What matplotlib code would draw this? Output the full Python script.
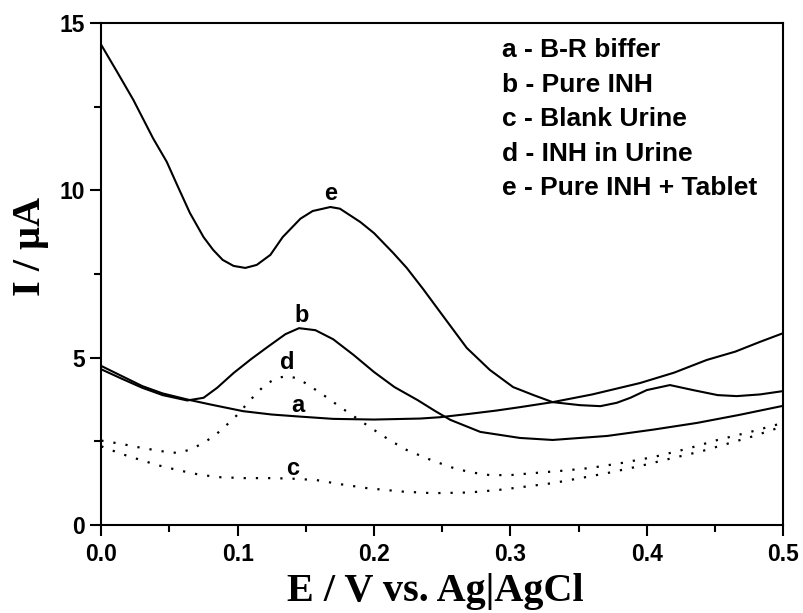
import matplotlib
matplotlib.use("Agg")
import matplotlib.pyplot as plt
from matplotlib.ticker import MultipleLocator

# Curve a - B-R buffer
a_x = [0.0, 0.015, 0.03, 0.045, 0.063, 0.08, 0.104, 0.125, 0.145, 0.17, 0.2, 0.234, 0.2485, 0.27, 0.29, 0.307, 0.331, 0.36, 0.395, 0.42, 0.444, 0.465, 0.483, 0.5]
a_y = [4.75, 4.45, 4.15, 3.93, 3.75, 3.60, 3.40, 3.30, 3.24, 3.17, 3.15, 3.18, 3.22, 3.32, 3.42, 3.52, 3.67, 3.90, 4.24, 4.55, 4.93, 5.18, 5.47, 5.73]

# Curve b - Pure INH
b_x = [0.0, 0.015, 0.03, 0.045, 0.063, 0.075, 0.085, 0.097, 0.11, 0.122, 0.135, 0.145, 0.157, 0.17, 0.185, 0.2, 0.215, 0.232, 0.245, 0.256, 0.278, 0.307, 0.331, 0.371, 0.405, 0.437, 0.468, 0.5]
b_y = [4.65, 4.37, 4.10, 3.88, 3.72, 3.80, 4.10, 4.54, 4.96, 5.32, 5.70, 5.88, 5.82, 5.55, 5.08, 4.57, 4.12, 3.73, 3.40, 3.14, 2.78, 2.60, 2.54, 2.66, 2.85, 3.05, 3.29, 3.56]

# Curve c - Blank Urine
c_x = [0.0, 0.015, 0.029, 0.042, 0.056, 0.07, 0.085, 0.105, 0.126, 0.142, 0.158, 0.175, 0.195, 0.22, 0.243, 0.27, 0.292, 0.31, 0.331, 0.35, 0.371, 0.395, 0.419, 0.44, 0.456, 0.478, 0.5]
c_y = [2.35, 2.12, 1.94, 1.78, 1.64, 1.52, 1.43, 1.40, 1.40, 1.38, 1.34, 1.22, 1.10, 1.00, 0.95, 0.97, 1.05, 1.14, 1.25, 1.39, 1.55, 1.76, 2.00, 2.20, 2.39, 2.65, 2.95]

# Curve d - INH in Urine
d_x = [0.0, 0.015, 0.03, 0.045, 0.056, 0.065, 0.075, 0.084, 0.092, 0.1, 0.106, 0.113, 0.12, 0.128, 0.136, 0.144, 0.152, 0.163, 0.175, 0.188, 0.2, 0.212, 0.224, 0.24, 0.256, 0.27, 0.285, 0.3, 0.317, 0.338, 0.358, 0.38, 0.405, 0.43, 0.452, 0.476, 0.5]
d_y = [2.52, 2.42, 2.30, 2.20, 2.15, 2.25, 2.45, 2.70, 2.99, 3.30, 3.58, 3.90, 4.18, 4.38, 4.45, 4.38, 4.18, 3.88, 3.53, 3.17, 2.84, 2.52, 2.24, 1.97, 1.73, 1.58, 1.49, 1.49, 1.55, 1.62, 1.70, 1.84, 2.03, 2.28, 2.54, 2.78, 3.05]

# Curve e - Pure INH + Tablet
e_x = [0.0, 0.0117, 0.0235, 0.038, 0.048, 0.0557, 0.065, 0.075, 0.082, 0.089, 0.097, 0.1056, 0.114, 0.124, 0.133, 0.146, 0.155, 0.168, 0.175, 0.19, 0.2, 0.214, 0.224, 0.236, 0.2485, 0.268, 0.285, 0.302, 0.317, 0.331, 0.351, 0.366, 0.378, 0.388, 0.4, 0.417, 0.434, 0.452, 0.466, 0.483, 0.5]
e_y = [14.34, 13.53, 12.7, 11.55, 10.85, 10.15, 9.32, 8.6, 8.22, 7.92, 7.74, 7.68, 7.77, 8.07, 8.6, 9.15, 9.38, 9.50, 9.45, 9.05, 8.72, 8.13, 7.68, 7.05, 6.36, 5.29, 4.63, 4.12, 3.88, 3.67, 3.58, 3.55, 3.65, 3.80, 4.03, 4.18, 4.03, 3.88, 3.85, 3.90, 4.00]

curve_labels = ["a", "b", "c", "d", "e"]
label_pos_x = [0.144, 0.147, 0.140, 0.136, 0.168]
label_pos_y = [3.58, 6.27, 1.70, 4.84, 9.90]

legend_lines = ["a - B-R biffer", "b - Pure INH", "c - Blank Urine",
                "d - INH in Urine", "e - Pure INH + Tablet"]

fig = plt.figure(figsize=(8.04, 6.13), dpi=100)
ax = fig.add_axes([0.126, 0.1436, 0.848, 0.819])

lw = 1.5
for xs, ys in [(a_x, a_y), (b_x, b_y), (e_x, e_y)]:
    ax.plot(xs, ys, color="black", lw=lw, solid_joinstyle="round")
for xs, ys in [(c_x, c_y), (d_x, d_y)]:
    ax.plot(xs, ys, color="black", lw=1.6, linestyle=(0, (1, 4.5)))

for t, lx, ly in zip(curve_labels, label_pos_x, label_pos_y):
    ax.text(lx, ly, t, fontsize=17, fontweight="bold", family="Liberation Sans",
            ha="center", va="center")

for i, s in enumerate(legend_lines):
    ax.text(0.587, 0.946 - i * 0.0687, s, transform=ax.transAxes,
            fontsize=19, fontweight="bold", family="Liberation Sans",
            ha="left", va="center")

ax.set_xlim(0, 0.5)
ax.set_ylim(0, 15)
ax.xaxis.set_minor_locator(MultipleLocator(0.05))
ax.yaxis.set_minor_locator(MultipleLocator(2.5))
ax.set_xticks([0, 0.1, 0.2, 0.3, 0.4, 0.5])
ax.set_xticklabels(["0.0", "0.1", "0.2", "0.3", "0.4", "0.5"])
ax.set_yticks([0, 5, 10, 15])
ax.set_yticklabels(["0", "5", "10", "15"])
ax.tick_params(which="major", direction="out", length=8, width=1.5, pad=5)
ax.tick_params(axis="y", which="major", pad=4)
ax.tick_params(which="minor", direction="out", length=5, width=1.5)
for lab in ax.get_xticklabels() + ax.get_yticklabels():
    lab.set_fontfamily("Liberation Sans")
    lab.set_fontweight("bold")
    lab.set_fontsize(16.5)
for sp in ax.spines.values():
    sp.set_linewidth(1.5)

ax.set_xlabel("E / V vs. Ag|AgCl", family="Liberation Serif", fontweight="bold",
              fontsize=29)
ax.xaxis.set_label_coords(0.49, -0.095)
ax.set_ylabel("I / μA", family="Liberation Serif", fontweight="bold",
              fontsize=29)
ax.yaxis.set_label_coords(-0.076, 0.554)

fig.savefig("out.png", dpi=100)
